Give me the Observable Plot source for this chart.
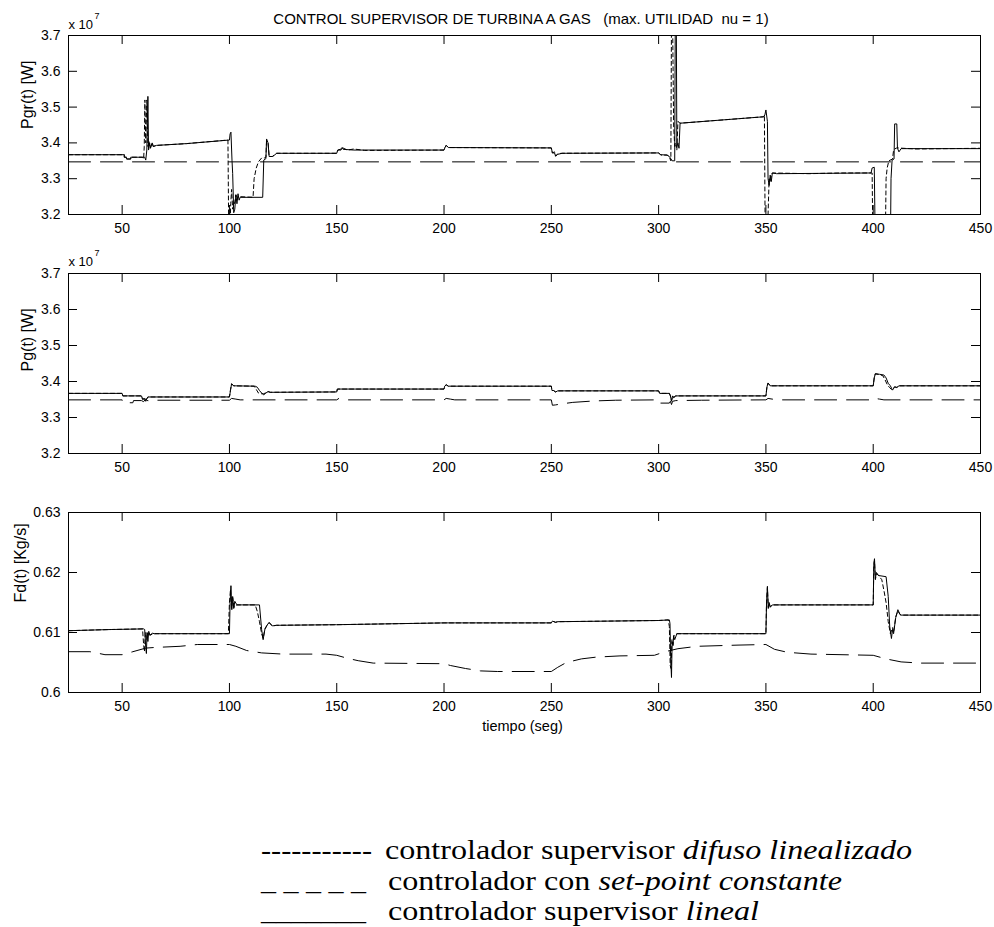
<!DOCTYPE html>
<html>
<head>
<meta charset="utf-8">
<script src="https://cdn.jsdelivr.net/npm/d3@7"></script>
<script src="https://cdn.jsdelivr.net/npm/@observablehq/plot@0.6"></script>
<style>
  body { margin: 0; background: #fff; }
  #chart { position: relative; width: 994px; height: 927px; overflow: hidden; background: #fff; }
  #chart svg { display: block; }
</style>
</head>
<body>
<div id="chart"></div>
<script>
// ---- axes ----
const tiempoTicks = [50, 100, 150, 200, 250, 300, 350, 400, 450];
const tiempoDomain = [25, 450];
const potenciaTicks = [3.2, 3.3, 3.4, 3.5, 3.6, 3.7];      // x 10^7 W
const combustibleTicks = [0.6, 0.61, 0.62, 0.63];          // Kg/s

const titulo = "CONTROL SUPERVISOR DE TURBINA A GAS\u00a0\u00a0\u00a0(max. UTILIDAD\u00a0\u00a0nu = 1)";
const etiquetaPgr = "Pgr(t) [W]";
const etiquetaPg = "Pg(t) [W]";
const etiquetaFd = "Fd(t) [Kg/s]";
const etiquetaTiempo = "tiempo (seg)";

// ---- Pgr(t): potencia de referencia, [t (s), valor x 10^7 W] ----
const pgrLineal = [
  [25, 3.367], [51, 3.367], [51, 3.360], [52, 3.360], [52, 3.355], [54, 3.355], [54, 3.360], [60.5, 3.360],
  [61, 3.352], [61.5, 3.38], [62, 3.53], [62.3, 3.38], [62.8, 3.40], [63.2, 3.385], [64, 3.40], [64.5, 3.39],
  [66, 3.393], [80, 3.398], [100, 3.408], [100.3, 3.425], [100.7, 3.43], [101.2, 3.35], [101.5, 3.315],
  [102, 3.205], [102.5, 3.215], [103, 3.255], [103.5, 3.23], [104, 3.258], [104.5, 3.24], [105, 3.248],
  [115.5, 3.248], [116, 3.352], [117, 3.356], [117.3, 3.411], [118, 3.40], [118.5, 3.362], [120, 3.362],
  [121, 3.366], [122, 3.371], [150, 3.371], [150.5, 3.38], [152, 3.38], [152.5, 3.387], [153, 3.382],
  [158, 3.380], [200, 3.380], [200.5, 3.388], [201, 3.393], [202, 3.387], [250, 3.386], [250.5, 3.372],
  [251.5, 3.372], [252, 3.363], [253, 3.368], [255, 3.371], [300, 3.372], [301, 3.367], [304, 3.366],
  [305, 3.362], [306.3, 3.35], [307.5, 3.35], [307.8, 3.80], [308.2, 3.80], [308.5, 3.39], [309, 3.40],
  [309.5, 3.385], [310, 3.455], [349, 3.473], [349.5, 3.478], [350, 3.492], [350.7, 3.46], [351, 3.30],
  [351.5, 3.281], [352, 3.31], [352.5, 3.292], [353, 3.316], [355, 3.314], [399, 3.316], [399.5, 3.330],
  [400.5, 3.332], [401, 3.10], [408, 3.10], [408.3, 3.30], [408.8, 3.352], [409.7, 3.355], [410, 3.453],
  [411, 3.453], [411.3, 3.385], [412, 3.375], [413, 3.384], [450, 3.384]
];
const pgrDifuso = [
  [25, 3.367], [51, 3.367], [51, 3.360], [52, 3.360], [52, 3.355], [54, 3.355], [54, 3.360], [59.5, 3.360],
  [60, 3.355], [60.3, 3.39], [60.6, 3.52], [61, 3.40], [61.5, 3.52], [62, 3.39], [62.5, 3.405], [63, 3.385],
  [64, 3.40], [64.5, 3.39], [66, 3.393], [80, 3.398], [99.3, 3.408], [99.6, 3.20], [100.2, 3.15],
  [100.6, 3.23], [101, 3.27], [101.5, 3.215], [102.5, 3.235], [103, 3.255], [103.5, 3.24], [104, 3.25],
  [111, 3.248], [111.5, 3.30], [112.5, 3.33], [113.5, 3.347], [115, 3.358], [116.5, 3.358], [117, 3.36],
  [117.3, 3.405], [118, 3.40], [118.5, 3.362], [120, 3.362], [121, 3.366], [122, 3.371], [150, 3.371],
  [150.5, 3.38], [152, 3.383], [152.5, 3.387], [155, 3.38], [158, 3.383], [163, 3.379], [200, 3.380],
  [200.5, 3.388], [201, 3.393], [202, 3.387], [250, 3.386], [250.5, 3.372], [251.5, 3.375], [252, 3.363],
  [253, 3.370], [255, 3.371], [300, 3.372], [301, 3.366], [304, 3.366], [305, 3.360], [305.7, 3.35],
  [306, 3.75], [306.5, 3.75], [307, 3.45], [307.5, 3.39], [308, 3.40], [308.5, 3.38], [309, 3.46],
  [310, 3.455], [349, 3.473], [349.3, 3.478], [349.6, 3.20], [350.2, 3.15], [351, 3.20], [351.5, 3.30],
  [352, 3.29], [352.5, 3.31], [353, 3.316], [370, 3.314], [385, 3.316], [399.5, 3.316], [399.8, 3.15],
  [405.7, 3.15], [406, 3.30], [406.5, 3.33], [407.3, 3.35], [409, 3.355], [409.5, 3.38], [410, 3.383],
  [411, 3.386], [420, 3.383], [450, 3.385]
];
const pgrConstante = [[25, 3.347], [450, 3.347]];

// ---- Pg(t): potencia generada, [t (s), valor x 10^7 W] ----
const pgLineal = [
  [25, 3.367], [50, 3.367], [50.3, 3.360], [59, 3.360], [59.5, 3.352], [60.5, 3.352], [61, 3.345],
  [61.5, 3.352], [62, 3.357], [100, 3.357], [100.5, 3.375], [101, 3.394], [102, 3.388], [112, 3.387],
  [113, 3.384], [114, 3.375], [115, 3.368], [116, 3.363], [117, 3.368], [118, 3.372], [119, 3.370],
  [150, 3.371], [150.3, 3.379], [200, 3.379], [200.3, 3.387], [201, 3.391], [202, 3.387], [250, 3.387],
  [250.3, 3.375], [251, 3.375], [252, 3.371], [253, 3.374], [300, 3.374], [300.5, 3.367], [305, 3.367],
  [305.5, 3.360], [306, 3.345], [306.5, 3.360], [307, 3.355], [308, 3.360], [350, 3.360], [350.5, 3.385],
  [351, 3.396], [352, 3.388], [400, 3.388], [400.5, 3.410], [401, 3.422], [403, 3.420], [405, 3.418],
  [406, 3.410], [407, 3.395], [408, 3.388], [409, 3.376], [410, 3.385], [411, 3.383], [412, 3.388],
  [450, 3.388]
];
const pgDifuso = [
  [25, 3.367], [50, 3.367], [50.3, 3.360], [59, 3.360], [59.5, 3.350], [60.5, 3.352], [61, 3.346],
  [61.5, 3.352], [62, 3.357], [100, 3.357], [100.5, 3.378], [101, 3.393], [102, 3.388], [111.5, 3.387],
  [112.5, 3.378], [113.5, 3.368], [114.5, 3.366], [116, 3.366], [117, 3.369], [118, 3.372], [119, 3.370],
  [150, 3.371], [150.3, 3.379], [200, 3.379], [200.3, 3.387], [201, 3.391], [202, 3.387], [250, 3.387],
  [250.3, 3.375], [251, 3.375], [252, 3.371], [253, 3.374], [300, 3.374], [300.5, 3.367], [305, 3.367],
  [305.5, 3.360], [306, 3.346], [306.5, 3.360], [307, 3.356], [308, 3.360], [350, 3.360], [350.5, 3.387],
  [351, 3.395], [352, 3.388], [400, 3.388], [400.5, 3.412], [401, 3.421], [403, 3.419], [404.5, 3.416],
  [405.5, 3.405], [406.5, 3.392], [407.5, 3.384], [408.5, 3.378], [410, 3.385], [411, 3.384], [412, 3.388],
  [450, 3.388]
];
const pgConstante = [
  [25, 3.349], [50, 3.349], [50.3, 3.341], [55, 3.341], [55.3, 3.347], [59, 3.347], [60, 3.344],
  [61, 3.352], [62, 3.346], [63, 3.348], [100, 3.348], [101, 3.353], [103, 3.351], [105, 3.349],
  [150, 3.349], [151, 3.353], [153, 3.351], [155, 3.349], [200, 3.349], [201, 3.353], [203, 3.351],
  [205, 3.349], [250, 3.349], [250.5, 3.334], [252, 3.335], [255, 3.338], [260, 3.342], [270, 3.346],
  [280, 3.348], [300, 3.349], [300.5, 3.340], [305, 3.340], [305.5, 3.345], [306, 3.336], [306.5, 3.345],
  [308, 3.347], [320, 3.348], [350, 3.349], [351, 3.353], [353, 3.351], [355, 3.349], [400, 3.349],
  [401, 3.353], [403, 3.351], [405, 3.349], [450, 3.349]
];

// ---- Fd(t): flujo de combustible, [t (s), Kg/s] ----
const fdLineal = [
  [25, 0.6103], [45, 0.6105], [60, 0.6106], [60.5, 0.6105], [61, 0.6075], [61.3, 0.6065], [61.6, 0.6100],
  [62, 0.6085], [62.4, 0.6102], [63, 0.6095], [64, 0.6099], [65, 0.6098], [100, 0.6098], [100.3, 0.6150],
  [100.7, 0.6178], [101.1, 0.6138], [101.5, 0.6160], [102, 0.6140], [102.5, 0.6152], [103.5, 0.6146],
  [114, 0.6146], [115, 0.6105], [115.7, 0.6088], [116.5, 0.6105], [117.5, 0.6112], [118.5, 0.6117],
  [120, 0.6111], [122, 0.6112], [150, 0.6113], [200, 0.6116], [250, 0.6116], [250.5, 0.6119], [252, 0.6117],
  [253, 0.6118], [300, 0.6120], [305, 0.6121], [305.3, 0.6115], [305.6, 0.6060], [306, 0.6025],
  [306.3, 0.6085], [306.7, 0.6078], [307, 0.6095], [307.5, 0.6088], [308.5, 0.6098], [350, 0.6098],
  [350.3, 0.6150], [350.7, 0.6177], [351.1, 0.6140], [351.5, 0.6150], [352, 0.6142], [353, 0.6146],
  [400, 0.6146], [400.3, 0.6215], [400.6, 0.6223], [401, 0.6190], [401.5, 0.6200], [402.5, 0.6195],
  [406, 0.6193], [407, 0.6160], [407.7, 0.6110], [408.5, 0.6090], [409, 0.6105], [409.5, 0.6098],
  [410.5, 0.6125], [411.5, 0.6138], [412.5, 0.6130], [413, 0.6129], [450, 0.6129]
];
const fdDifuso = [
  [25, 0.6103], [45, 0.6105], [59.5, 0.6106], [60, 0.6080], [60.4, 0.6068], [60.8, 0.6100], [61.3, 0.6088],
  [62, 0.6101], [63, 0.6096], [65, 0.6098], [99.5, 0.6098], [100, 0.6150], [100.5, 0.6172], [101, 0.6140],
  [101.5, 0.6158], [102.2, 0.6142], [103.5, 0.6146], [112, 0.6146], [113, 0.6135], [114, 0.6118],
  [115, 0.6098], [115.7, 0.6090], [116.5, 0.6106], [117.5, 0.6112], [118.5, 0.6116], [120, 0.6111],
  [122, 0.6112], [150, 0.6113], [200, 0.6116], [250, 0.6116], [250.5, 0.6119], [252, 0.6117],
  [253, 0.6118], [300, 0.6120], [304.5, 0.6121], [305, 0.6110], [305.4, 0.6045], [305.8, 0.6040],
  [306.2, 0.6088], [306.7, 0.6080], [307, 0.6094], [308.5, 0.6098], [350, 0.6098], [350.3, 0.6152],
  [350.7, 0.6175], [351.1, 0.6142], [351.5, 0.6149], [352, 0.6143], [353, 0.6146], [400, 0.6146],
  [400.3, 0.6212], [400.6, 0.6220], [401, 0.6188], [401.5, 0.6198], [402.5, 0.6195], [404, 0.6188],
  [405, 0.6170], [406, 0.6150], [407, 0.6118], [408, 0.6098], [409, 0.6108], [409.5, 0.6100],
  [410.5, 0.6126], [411.5, 0.6136], [412.5, 0.6130], [413, 0.6129], [450, 0.6129]
];
const fdConstante = [
  [25, 0.6068], [35, 0.6068], [38, 0.6066], [42, 0.6063], [50, 0.6063], [55, 0.6068], [61, 0.6074],
  [65, 0.6075], [77, 0.6077], [85, 0.6080], [100, 0.6080], [103, 0.6077], [108, 0.6070], [115, 0.6066],
  [125, 0.6064], [145, 0.6064], [150, 0.6062], [155, 0.6057], [160, 0.6053], [167, 0.6049], [200, 0.6048],
  [203, 0.6045], [210, 0.6040], [217, 0.6036], [225, 0.6035], [250, 0.6035], [253, 0.6042], [257, 0.6050],
  [264, 0.6056], [271, 0.6059], [282, 0.6061], [298, 0.6062], [303, 0.6068], [309, 0.6073], [318, 0.6077],
  [337, 0.6079], [350, 0.6080], [354, 0.6072], [360, 0.6067], [371, 0.6064], [400, 0.6062], [406, 0.6056],
  [413, 0.6051], [422, 0.6049], [450, 0.6049]
];

// ---- leyenda ----
const leyendaMarcas = ["-----------", "_ _ _ _ _", "_______"];
const leyendaTextos = [
  [["controlador supervisor ", false], ["difuso linealizado", true]],
  [["controlador con ", false], ["set-point constante", true]],
  [["controlador supervisor ", false], ["lineal", true]]
];

// ---- line styles ----
const estiloDifuso = "4,3";
const estiloConstante = "22,10";
const estiloLineal = null;

const WIDTH = 994, ML = 68, MR = 14, TICK = 9;
const FONT = "Arial, 'Liberation Sans', Helvetica, sans-serif";

function panel({series, yDomain, yTicks, yFormat, yLabel, labelDx, labelDy, plotH, marginTop, marginBottom, exponente, extra = []}) {
  const plotW = WIDTH - ML - MR;
  const marks = [];
  for (const [data, dash] of series) {
    marks.push(Plot.line(data, {
      x: d => d[0], y: d => d[1], stroke: "#000", strokeWidth: 1,
      strokeDasharray: dash, clip: true
    }));
  }
  marks.push(
    Plot.frame({stroke: "#000", strokeWidth: 1}),
    // inward ticks on all four sides of the box
    Plot.tickX(tiempoTicks, {x: d => d, insetTop: plotH - TICK, stroke: "#000"}),
    Plot.tickX(tiempoTicks, {x: d => d, insetBottom: plotH - TICK, stroke: "#000"}),
    Plot.tickY(yTicks, {y: d => d, insetRight: plotW - TICK, stroke: "#000"}),
    Plot.tickY(yTicks, {y: d => d, insetLeft: plotW - TICK, stroke: "#000"}),
    Plot.axisX({ticks: tiempoTicks, tickSize: 0, tickPadding: 9, label: null, tickFormat: d => String(d), fontSize: 14}),
    Plot.axisY({ticks: yTicks, tickSize: 0, tickPadding: 8, label: null, tickFormat: yFormat, fontSize: 14}),
    Plot.text([yLabel], {text: d => d, frameAnchor: "left", rotate: -90, dx: labelDx, dy: labelDy, fontSize: 16, fill: "#000"})
  );
  if (exponente) {
    marks.push(
      Plot.text(["x 10"], {text: d => d, frameAnchor: "top-left", textAnchor: "start", lineAnchor: "bottom", dy: exponente[0], fontSize: 13, fill: "#000"}),
      Plot.text(["7"], {text: d => d, frameAnchor: "top-left", textAnchor: "start", lineAnchor: "bottom", dx: 26, dy: exponente[1], fontSize: 9, fill: "#000"})
    );
  }
  marks.push(...extra);
  return Plot.plot({
    width: WIDTH,
    height: marginTop + plotH + marginBottom,
    marginLeft: ML, marginRight: MR, marginTop, marginBottom,
    x: {domain: tiempoDomain},
    y: {domain: yDomain},
    style: {fontFamily: FONT, fontSize: "14px", color: "#000", background: "#fff"},
    marks
  });
}

const chart = document.getElementById("chart");

chart.append(panel({
  series: [[pgrConstante, estiloConstante], [pgrDifuso, estiloDifuso], [pgrLineal, estiloLineal]],
  yDomain: [3.2, 3.7], yTicks: potenciaTicks, yFormat: d => d.toFixed(1), yLabel: etiquetaPgr,
  labelDx: -40.5, labelDy: 4,
  plotH: 179, marginTop: 35, marginBottom: 25, exponente: [-7, -17],
  extra: [Plot.text([titulo], {text: d => d, frameAnchor: "top", lineAnchor: "bottom", dy: -12, dx: -3.5, fontSize: 15, fill: "#000"})]
}));

chart.append(panel({
  series: [[pgConstante, estiloConstante], [pgDifuso, estiloDifuso], [pgLineal, estiloLineal]],
  yDomain: [3.2, 3.7], yTicks: potenciaTicks, yFormat: d => d.toFixed(1), yLabel: etiquetaPg,
  labelDx: -40.5, labelDy: 8,
  plotH: 180, marginTop: 34, marginBottom: 25, exponente: [-8, -18]
}));

chart.append(panel({
  series: [[fdConstante, estiloConstante], [fdDifuso, estiloDifuso], [fdLineal, estiloLineal]],
  yDomain: [0.6, 0.63], yTicks: combustibleTicks, yFormat: d => String(d), yLabel: etiquetaFd,
  labelDx: -48, labelDy: 0,
  plotH: 180, marginTop: 34, marginBottom: 50,
  extra: [Plot.text([etiquetaTiempo], {text: d => d, frameAnchor: "bottom", lineAnchor: "middle", dy: 34, dx: -2, fontSize: 14.5, fill: "#000"})]
}));

// legend below the three panels: a horizontally stretched serif face
const leyenda = d3.create("svg")
  .attr("width", WIDTH).attr("height", 185)
  .style("font-family", "'Times New Roman', 'Liberation Serif', serif")
  .style("font-size", "27px");
const base0 = 117, paso = 30.5, estiramiento = 1.19;
leyendaMarcas.forEach((m, i) => {
  const y = base0 + i * paso;
  leyenda.append("text")
    .attr("transform", `translate(261,${y})`)
    .attr("textLength", i === 0 ? 111 : 105).attr("lengthAdjust", "spacingAndGlyphs")
    .style("white-space", "pre").text(m);
  const t = leyenda.append("text")
    .attr("transform", `translate(${i === 0 ? 385 : 388},${y}) scale(${estiramiento},1)`)
    .style("white-space", "pre");
  for (const [s, it] of leyendaTextos[i]) {
    t.append("tspan").attr("font-style", it ? "italic" : null).text(s);
  }
});
chart.append(leyenda.node());
</script>
</body>
</html>
